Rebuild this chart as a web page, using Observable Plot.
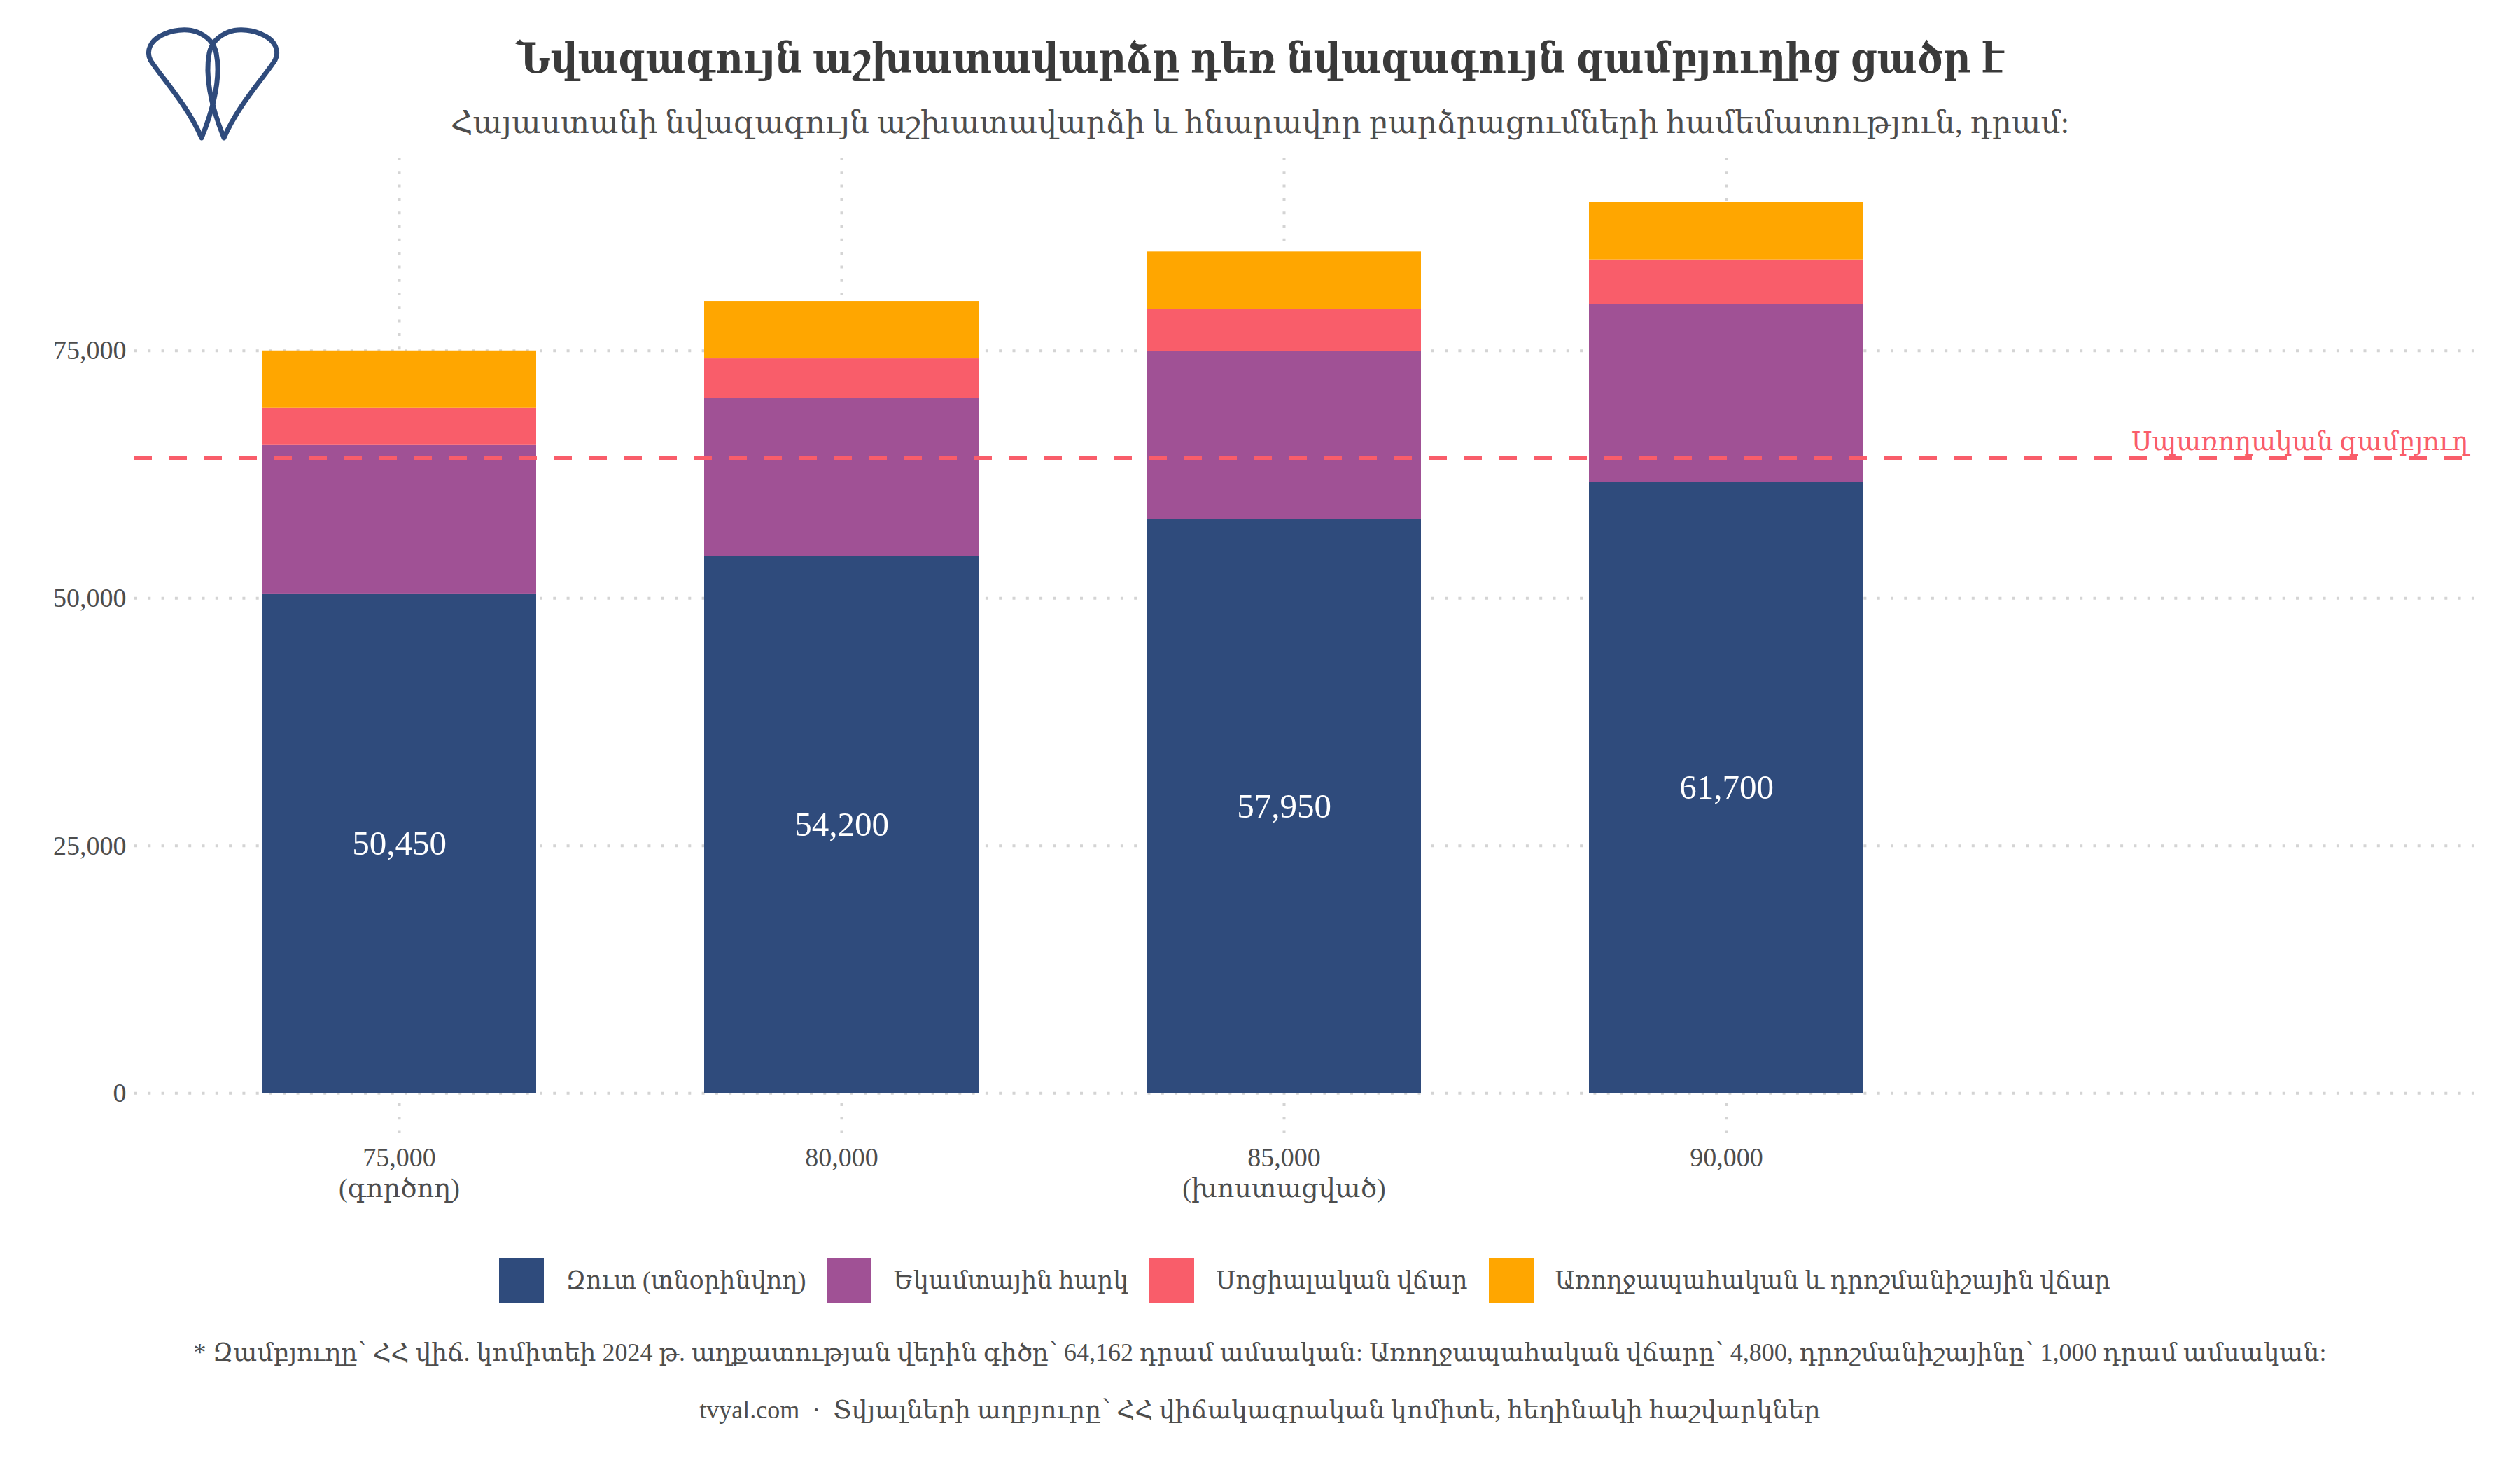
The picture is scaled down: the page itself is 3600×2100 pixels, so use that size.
<!DOCTYPE html>
<html>
<head>
<meta charset="utf-8">
<script src="https://cdn.jsdelivr.net/npm/d3@7"></script>
<script src="https://cdn.jsdelivr.net/npm/@observablehq/plot@0.6"></script>
<style>
  html, body { margin: 0; padding: 0; background: #ffffff; }
  body { width: 3600px; height: 2100px; position: relative; overflow: hidden;
         font-family: "Liberation Serif", "DejaVu Serif", serif; color: #4d4d4d; }
  .abs { position: absolute; }
  #title { left: 0; width: 3600px; top: 54px; text-align: center; font-size: 60px; font-weight: bold; font-stretch: condensed; color: #3a3a3a; line-height: 1; }
  #subtitle { left: 0; width: 3600px; top: 154px; text-align: center; font-size: 44px; color: #4d4d4d; line-height: 1; }
  #chart { left: 0; top: 200px; }
  #legend { left: 192px; width: 3344px; top: 1797px; display: flex; justify-content: center; align-items: center; gap: 30px; font-size: 35px; color: #4d4d4d; }
  .item { display: flex; align-items: center; gap: 31px; }
  .sw { width: 64px; height: 64px; display: inline-block; }
  #foot { left: 0; width: 3600px; top: 1914px; text-align: center; font-size: 36px; line-height: 1; color: #4d4d4d; }
  #source { left: 0; width: 3600px; top: 1996px; text-align: center; font-size: 36px; line-height: 1; color: #4d4d4d; }
</style>
</head>
<body>
<svg class="abs" id="logo" style="left:0;top:0" width="420" height="220" viewBox="0 0 420 220">
  <path d="M288,197 C268,150 230,110 215,86 C208,72 216,58 230,51 C245,43 266,40 282,46 C297,52 306,62 309,76 C314,102 311,140 288,197 Z" fill="none" stroke="#2f4b7c" stroke-width="7" stroke-linejoin="round"/>
  <path d="M320,197 C340,150 378,110 393,86 C400,72 392,58 378,51 C363,43 342,40 326,46 C311,52 302,62 299,76 C294,102 297,140 320,197 Z" fill="none" stroke="#2f4b7c" stroke-width="7" stroke-linejoin="round"/>
</svg>
<div class="abs" id="title">Նվազագույն աշխատավարձը դեռ նվազագույն զամբյուղից ցածր է</div>
<div class="abs" id="subtitle">Հայաստանի նվազագույն աշխատավարձի և հնարավոր բարձրացումների համեմատություն, դրամ:</div>
<div class="abs" id="chart"></div>
<div class="abs" id="legend"></div>
<div class="abs" id="foot">* Զամբյուղը՝ ՀՀ վիճ. կոմիտեի 2024 թ. աղքատության վերին գիծը՝ 64,162 դրամ ամսական: Առողջապահական վճարը՝ 4,800, դրոշմանիշայինը՝ 1,000 դրամ ամսական:</div>
<div class="abs" id="source">tvyal.com &nbsp;·&nbsp; Տվյալների աղբյուրը՝ ՀՀ վիճակագրական կոմիտե, հեղինակի հաշվարկներ</div>
<script>
// ---- data ----
const wageKeys = ["75,000", "80,000", "85,000", "90,000"];
const wageTickLabels = ["75,000\n(գործող)", "80,000", "85,000\n(խոստացված)", "90,000"];
const netPay = [50450, 54200, 57950, 61700];
const incomeTax = [15000, 16000, 17000, 18000];
const socialFee = [3750, 4000, 4250, 4500];
const healthStampFee = [5800, 5800, 5800, 5800];
const seriesNames = ["Զուտ (տնօրինվող)", "Եկամտային հարկ", "Սոցիալական վճար", "Առողջապահական և դրոշմանիշային վճար"];
const seriesColors = ["#2f4b7c", "#a05195", "#f95d6a", "#ffa600"];
const basketValue = 64162;
const basketLabel = "Սպառողական զամբյուղ";
const yTicks = [0, 25000, 50000, 75000];

const seriesValues = [netPay, incomeTax, socialFee, healthStampFee];
const stacked = [];
wageKeys.forEach((k, i) => {
  seriesNames.forEach((s, j) => stacked.push({wage: k, series: s, value: seriesValues[j][i]}));
});
const netRows = wageKeys.map((k, i) => ({wage: k, net: netPay[i]}));
const fmt = d3.format(",");
const FONT = '"Liberation Serif", "DejaVu Serif", serif';

const chart = Plot.plot({
  width: 3600,
  height: 1560,
  marginTop: 25,
  marginBottom: 135,
  marginLeft: 192,
  marginRight: 64,
  style: {fontFamily: FONT, fontSize: "38px", color: "#4d4d4d", background: "transparent", overflow: "visible"},
  x: {domain: wageKeys, paddingInner: 0.38, paddingOuter: 0.835, align: 0.172, axis: null, label: null},
  y: {domain: [-4500, 94500], axis: null, label: null},
  color: {domain: seriesNames, range: seriesColors},
  marks: [
    Plot.ruleY(yTicks, {stroke: "#d4d4d4", strokeWidth: 4, strokeDasharray: "4,15.3"}),
    Plot.ruleX(wageKeys, {x: d => d, stroke: "#d4d4d4", strokeWidth: 4, strokeDasharray: "4,15.3"}),
    Plot.barY(stacked, {x: "wage", y: "value", fill: "series"}),
    Plot.ruleY([basketValue], {stroke: "#f95d6a", strokeWidth: 5, strokeDasharray: "25,25"}),
    Plot.text([basketValue], {y: d => d, frameAnchor: "right", textAnchor: "end", lineAnchor: "bottom", dx: -10, dy: -12, text: () => basketLabel, fill: "#f95d6a", fontSize: 37}),
    Plot.text(netRows, {x: "wage", y: d => d.net / 2, text: d => fmt(d.net), fill: "white", fontSize: 49}),
    Plot.axisY({ticks: yTicks, tickSize: 0, tickPadding: 12, tickFormat: fmt, fill: "#4d4d4d", fontSize: 38, label: null}),
    Plot.axisX({tickSize: 0, tickPadding: 10, tickFormat: d => wageTickLabels[wageKeys.indexOf(d)], fill: "#4d4d4d", fontSize: 38, lineHeight: 1.14, label: null})
  ]
});
document.getElementById("chart").appendChild(chart);

const legend = document.getElementById("legend");
seriesNames.forEach((s, i) => {
  const item = document.createElement("div");
  item.className = "item";
  const sw = document.createElement("span");
  sw.className = "sw";
  sw.style.background = seriesColors[i];
  const t = document.createElement("span");
  t.textContent = s;
  item.appendChild(sw);
  item.appendChild(t);
  legend.appendChild(item);
});
</script>
</body>
</html>
